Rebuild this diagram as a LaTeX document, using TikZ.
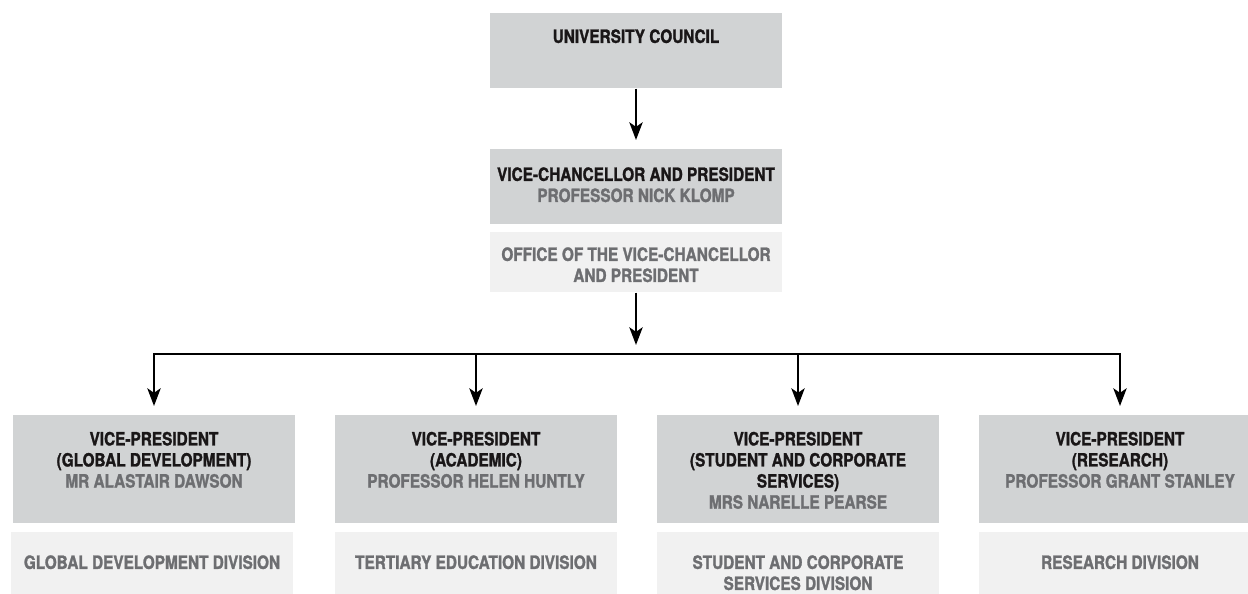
\documentclass[tikz,border=0pt]{standalone}
\usepackage{fontspec}
\setmainfont{TeX Gyre Heros}[FakeStretch=0.84, FakeBold=1.4]
\usetikzlibrary{arrows.meta, positioning}

\definecolor{boxdark}{RGB}{209,211,212}
\definecolor{boxlight}{RGB}{241,241,241}
\definecolor{nametext}{RGB}{109,110,113}
\definecolor{titletext}{RGB}{25,22,23}

\begin{document}
\begin{tikzpicture}[x=0.02cm, y=-0.02cm,
  every node/.style={font=\fontsize{10.4}{12}\selectfont\bfseries},
  topbox/.style={fill=boxdark, anchor=north, inner sep=0pt, minimum width=5.86cm, minimum height=1.5cm},
  officebox/.style={fill=boxlight, anchor=north, inner sep=0pt, minimum width=5.86cm, minimum height=1.2cm},
  vpbox/.style={fill=boxdark, anchor=north, inner sep=0pt, minimum width=5.64cm, minimum height=2.16cm},
  divbox/.style={fill=boxlight, anchor=north, inner sep=0pt, minimum width=5.64cm, minimum height=1.4cm},
  lbl/.style={align=center, inner sep=0pt, text=titletext},
  dimlbl/.style={lbl, text=nametext},
  arr/.style={-{Stealth[length=10pt, width=7.5pt, inset=2.5pt]}, line width=1.6pt},
  bus/.style={line width=1.6pt, line cap=rect}]

  \clip (0,0) rectangle (1248,593);
  \useasboundingbox (0,0) rectangle (1248,593);

  % top of the chart
  \node[topbox] (council) at (636,13) {};
  \node[lbl, below=0.32cm of council.north] (councilt) {UNIVERSITY COUNCIL};

  \node[topbox] (vc) at (636,149) {};
  \node[lbl, below=0.36cm of vc.north] (vct)
    {VICE-CHANCELLOR AND PRESIDENT\\\textcolor{nametext}{PROFESSOR NICK KLOMP}};

  \node[officebox] (office) at (636,232) {};
  \node[dimlbl, below=0.30cm of office.north] (officet)
    {OFFICE OF THE VICE-CHANCELLOR\\AND PRESIDENT};

  % vice-presidents
  \node[vpbox] (vp1) at (154,415) {};
  \node[vpbox] (vp2) at (476,415) {};
  \node[vpbox] (vp3) at (798,415) {};
  \node[vpbox] (vp4) at (1120,415) {};
  \node[lbl, below=0.33cm of vp1.north] (vp1t)
    {VICE-PRESIDENT\\(GLOBAL DEVELOPMENT)\\\textcolor{nametext}{MR ALASTAIR DAWSON}};
  \node[lbl, below=0.33cm of vp2.north] (vp2t)
    {VICE-PRESIDENT\\(ACADEMIC)\\\textcolor{nametext}{PROFESSOR HELEN HUNTLY}};
  \node[lbl, below=0.33cm of vp3.north] (vp3t)
    {VICE-PRESIDENT\\(STUDENT AND CORPORATE\\SERVICES)\\\textcolor{nametext}{MRS NARELLE PEARSE}};
  \node[lbl, below=0.33cm of vp4.north] (vp4t)
    {VICE-PRESIDENT\\(RESEARCH)\\\textcolor{nametext}{PROFESSOR GRANT STANLEY}};

  % divisions
  \node[divbox] (div1) at (152,532) {};
  \node[divbox] (div2) at (476,532) {};
  \node[divbox] (div3) at (798,532) {};
  \node[divbox] (div4) at (1120,532) {};
  \node[dimlbl, below=0.46cm of div1.north] (div1t) {GLOBAL DEVELOPMENT DIVISION};
  \node[dimlbl, below=0.46cm of div2.north] (div2t) {TERTIARY EDUCATION DIVISION};
  \node[dimlbl, below=0.46cm of div3.north] (div3t) {STUDENT AND CORPORATE\\SERVICES DIVISION};
  \node[dimlbl, below=0.46cm of div4.north] (div4t) {RESEARCH DIVISION};

  % connectors
  \draw[arr, shorten >=0.18cm] (council.south) -- (vc.north);
  \coordinate (busin) at (636,345);
  \coordinate (busy) at (636,354);
  \draw[arr] (office.south) -- (busin);
  \draw[bus] (vp1.north |- busy) -- (vp4.north |- busy);
  \foreach \v in {vp1,vp2,vp3,vp4}
    \draw[arr, shorten >=0.18cm] (\v.north |- busy) -- (\v.north);
\end{tikzpicture}
\end{document}
